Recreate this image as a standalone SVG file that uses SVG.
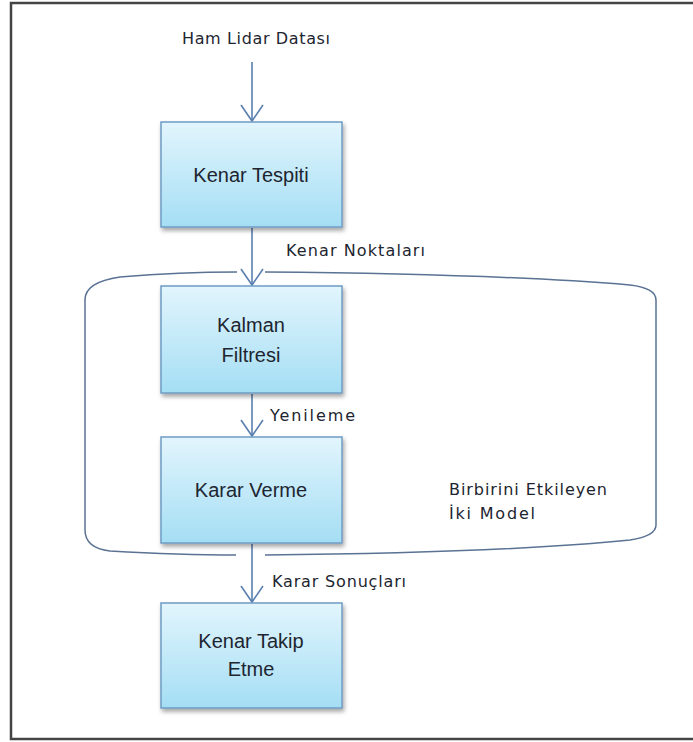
<svg xmlns="http://www.w3.org/2000/svg" width="693" height="742" viewBox="0 0 693 742">
  <defs>
    <linearGradient id="boxFill" x1="0" y1="0" x2="0" y2="1">
      <stop offset="0" stop-color="#e2f5fd"/>
      <stop offset="1" stop-color="#a4def4"/>
    </linearGradient>
    <filter id="shadow" x="-10%" y="-10%" width="125%" height="130%">
      <feDropShadow dx="1.5" dy="3" stdDeviation="2" flood-color="#000" flood-opacity="0.35"/>
    </filter>
    <marker id="openArrow" markerUnits="userSpaceOnUse" markerWidth="24" markerHeight="26" viewBox="-18 -13 20 26" refX="0" refY="0" orient="auto">
      <path d="M -16 -11 L 0 0 L -16 11" fill="none" stroke="#5b7fae" stroke-width="1.6"/>
    </marker>
  </defs>
  <style>
    .box { fill: url(#boxFill); stroke: #6f9cc4; stroke-width: 1.5; filter: url(#shadow); }
    .boxText { font-family: "Liberation Sans", Arial, sans-serif; font-size: 20px; fill: #1d2530; text-anchor: middle; }
    .label { font-family: "DejaVu Sans", Verdana, sans-serif; font-size: 16px; fill: #1d2530; }
    .flow { fill: none; stroke: #5b7fae; stroke-width: 1.6; }
    .bracket { fill: none; stroke: #5a7294; stroke-width: 1.5; }
  </style>

  <rect x="0" y="0" width="693" height="742" fill="#ffffff"/>
  <!-- outer frame -->
  <rect x="11" y="3" width="690" height="736" fill="none" stroke="#444444" stroke-width="2.5"/>

  <!-- interacting-model bracket -->
  <g id="bracket">
    <path class="bracket" d="M 85 300 Q 85 282 120 277 Q 180 272 237 272"/>
    <path class="bracket" d="M 265 272 Q 500 274 630 285 Q 656 288 656 300 L 656 525 Q 656 536 630 540 Q 500 553 265 555"/>
    <path class="bracket" d="M 236 555 Q 180 555 110 551 Q 85 548 85 530 L 85 300"/>
  </g>

  <!-- connectors -->
  <g id="connectors">
    <line class="flow" x1="252" y1="62" x2="252" y2="121" marker-end="url(#openArrow)"/>
    <line class="flow" x1="252" y1="228" x2="252" y2="285" marker-end="url(#openArrow)"/>
    <line class="flow" x1="252" y1="394" x2="252" y2="436" marker-end="url(#openArrow)"/>
    <line class="flow" x1="252" y1="544" x2="252" y2="602" marker-end="url(#openArrow)"/>
  </g>

  <!-- labels -->
  <g id="labels">
    <text class="label" x="182" y="44" textLength="148" lengthAdjust="spacing">Ham Lidar Datası</text>
    <text class="label" x="286" y="256" textLength="139" lengthAdjust="spacing">Kenar Noktaları</text>
    <text class="label" x="270" y="421" textLength="85" lengthAdjust="spacing">Yenileme</text>
    <text class="label" x="272" y="587" textLength="134" lengthAdjust="spacing">Karar Sonuçları</text>
    <text class="label" x="449" y="495" textLength="158" lengthAdjust="spacing">Birbirini Etkileyen</text>
    <text class="label" x="449" y="519" textLength="86" lengthAdjust="spacing">İki Model</text>
  </g>

  <g id="kenar-tespiti">
    <rect class="box" x="161" y="122" width="181" height="105"/>
    <text class="boxText" x="251" y="182">Kenar Tespiti</text>
  </g>

  <g id="kalman-filtresi">
    <rect class="box" x="161" y="286" width="181" height="107"/>
    <text class="boxText" x="251" y="332">Kalman</text>
    <text class="boxText" x="251" y="362">Filtresi</text>
  </g>

  <g id="karar-verme">
    <rect class="box" x="161" y="437" width="181" height="106"/>
    <text class="boxText" x="251" y="497">Karar Verme</text>
  </g>

  <g id="kenar-takip-etme">
    <rect class="box" x="161" y="603" width="181" height="105"/>
    <text class="boxText" x="251" y="648">Kenar Takip</text>
    <text class="boxText" x="251" y="676">Etme</text>
  </g>
</svg>
